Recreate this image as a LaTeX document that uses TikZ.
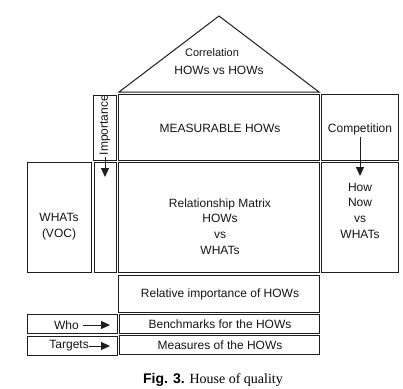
\documentclass[tikz,border=0pt]{standalone}
\usepackage{fontspec}
\setmainfont{Liberation Serif}
\setsansfont{Liberation Sans}
\usepackage{tikz}
\usetikzlibrary{arrows.meta}
\definecolor{HouseLine}{HTML}{1E1E1E}
\definecolor{HouseText}{HTML}{141414}

\tikzset{
    cell/.style={line width=1, draw=HouseLine},
    label text/.style={font=\sffamily\fontsize{12}{15.7}\selectfont, text=HouseText, align=center, inner sep=2},
    small text/.style={font=\sffamily\fontsize{11}{13}\selectfont, text=HouseText, inner sep=0},
    push/.style={-{Triangle[length=9, width=8]}, line width=1, draw=HouseLine}
}

\begin{document}
\begin{tikzpicture}[x=1pt, y=-1pt]

\useasboundingbox (0,0) rectangle (403,388);

% roof
\draw[cell, line join=miter] (119,92) -- (219,16) -- (319,92) -- cycle;
\node[small text] (correlation) at (212,53) {Correlation};
\node[label text] (howshows) at (219,70) {HOWs vs HOWs};

% upper floor
\draw[cell] (93,95) rectangle (116,160);
\draw[cell] (118,94) rectangle (319,160);
\draw[cell] (321,94) rectangle (398,160);
\node[label text, rotate=90] (importance) at (105,125) {Importance};
\node[label text] (measurable) at (220,128) {MEASURABLE HOWs};
\node[label text] (competition) at (360,129) {Competition};

% main floor
\draw[cell] (27,162) rectangle (91,272);
\draw[cell] (94,162) rectangle (116,272);
\draw[cell] (118,162) rectangle (319,272);
\draw[cell] (321,162) rectangle (398,272);
\node[label text] (whats) at (59,226.5) {WHATs\\(VOC)};
\node[label text] (relmatrix) at (220,226.5) {Relationship Matrix\\HOWs\\vs\\WHATs};
\node[label text] (hownow) at (360,210.5) {How\\Now\\vs\\WHATs};

\coordinate (imptip) at (105,177);
\coordinate (comptip) at (360,176);
\draw[push] (importance.west) -- (imptip);
\draw[push] (competition.south) -- (comptip);

% basement
\draw[cell] (118,275) rectangle (319,312);
\draw[cell] (27,314) rectangle (117,333);
\draw[cell] (119,314) rectangle (319,333);
\draw[cell] (27,336) rectangle (117,355);
\draw[cell] (119,335) rectangle (319,354);
\node[label text] (relimp) at (220,294) {Relative importance of HOWs};
\node[label text] (bench) at (220,324) {Benchmarks for the HOWs};
\node[label text] (measures) at (220,345) {Measures of the HOWs};
\node[label text, anchor=east, inner sep=4] (who) at (83,325) {Who};
\node[label text, anchor=east, inner sep=0] (targets) at (89,346) {Targets};

\coordinate (whotip) at (110,325);
\coordinate (targetstip) at (110,346);
\draw[push] (who.east) -- (whotip);
\draw[push] (targets.east) -- (targetstip);

\node[font=\fontsize{14}{16}\selectfont, inner sep=0] (caption) at (213,380)
    {{\sffamily\bfseries Fig. 3.} House of quality};

\end{tikzpicture}
\end{document}
